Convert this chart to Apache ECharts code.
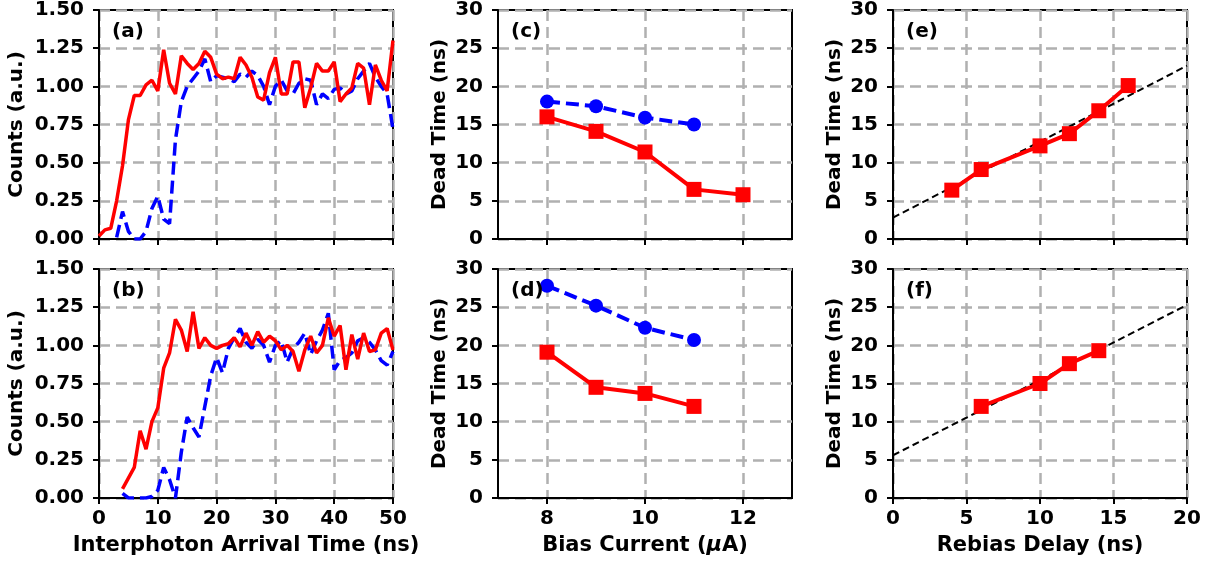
<!DOCTYPE html>
<html><head><meta charset="utf-8">
<script src="https://cdn.jsdelivr.net/npm/echarts@6/dist/echarts.min.js"></script>
<style>html,body{margin:0;padding:0;background:#fff}#c{width:1214px;height:563px}</style>
</head><body><div id="c"></div>
<script>
// ---- data ----
const arrivalTimes = [0,1,2,3,4,5,6,7,8,9,10,11,12,13,14,15,16,17,18,19,20,21,22,23,24,25,26,27,28,29,30,31,32,33,34,35,36,37,38,39,40,41,42,43,44,45,46,47,48,49,50];
// panel (a)
const countsRedA = [0.02,0.06,0.07,0.25,0.48,0.78,0.94,0.94,1.01,1.04,0.97,1.24,1.02,0.95,1.20,1.15,1.11,1.15,1.23,1.19,1.08,1.05,1.06,1.05,1.19,1.14,1.06,0.93,0.91,1.09,1.19,0.95,0.95,1.16,1.16,0.86,0.99,1.15,1.10,1.10,1.16,0.90,0.95,0.99,1.15,1.12,0.88,1.14,1.04,0.97,1.30];
const countsBlueA = [null,null,null,0.01,0.18,0.05,0.0,0.0,0.05,0.20,0.28,0.13,0.10,0.65,0.90,1.00,1.05,1.10,1.18,1.03,1.07,1.06,1.05,1.03,1.08,1.06,1.10,1.07,1.00,0.88,1.00,1.04,0.97,0.95,1.02,1.05,1.04,0.88,0.95,0.92,0.98,0.99,0.95,0.97,1.05,1.10,1.15,1.06,1.00,0.95,0.72];
// panel (b)
const countsRedB = [null,null,null,null,0.06,0.13,0.20,0.44,0.32,0.50,0.59,0.85,0.95,1.17,1.10,0.96,1.22,0.98,1.05,1.00,0.98,1.00,1.01,1.05,0.99,1.08,1.00,1.09,1.02,1.06,1.03,0.97,1.00,0.96,0.83,0.97,1.06,0.95,1.00,1.18,1.06,1.13,0.84,1.07,0.91,1.08,0.96,0.97,1.08,1.11,0.97];
const countsBlueB = [null,null,null,null,0.03,0.0,0.0,0.0,0.0,0.01,0.05,0.20,0.12,0.0,0.30,0.53,0.46,0.40,0.60,0.80,0.92,0.82,0.98,1.05,1.11,1.02,0.98,1.04,1.00,0.89,1.00,1.03,0.89,0.98,1.02,1.08,0.94,1.03,1.10,1.21,0.84,0.90,0.92,0.95,1.03,1.05,1.02,0.97,0.90,0.87,0.96];
// panels (c),(d)
const biasBlue = [8,9,10,11];
const biasRed = [8,9,10,11,12];
const deadBlueC = [18.0,17.4,15.9,15.0];
const deadRedC = [16.0,14.1,11.4,6.5,5.8];
const biasBlueD = [8,9,10,11];
const biasRedD = [8,9,10,11];
const deadBlueD = [27.8,25.2,22.3,20.7];
const deadRedD = [19.1,14.5,13.7,12.0];
// panels (e),(f)
const rebiasE = [4,6,10,12,14,16];
const deadE = [6.4,9.1,12.2,13.8,16.8,20.1];
const fitE_x = [0,20];
const fitE_y = [2.8,22.7];
const rebiasF = [6,10,12,14];
const deadF = [12.0,15.0,17.6,19.3];
const fitF_x = [0,20];
const fitF_y = [5.6,25.3];
// tick values
const biasTicks = [8,10,12];

const pairs = (xs, ys) => xs.map((x,i)=>[x, ys[i]]).filter(p=>p[1]!==null && p[1]!==undefined);

const FONT = 'DejaVu Sans';
const GRIDC = '#b0b0b0';
const RED = '#ff0000', BLUE = '#0000ff';
const TICKFS = 20, XNAMEFS = 21, YNAMEFS = 20;

const L = [99, 498, 893], T = [10, 269], W = 294, H = 229;
const grids = [];
for (let r=0;r<2;r++) for (let c=0;c<3;c++) grids.push({left:L[c], top:T[r], width:W, height:H, show:true, borderColor:'#000', borderWidth:2, backgroundColor:'transparent'});

function splitL(){ return {show:true, lineStyle:{color:GRIDC, width:2.5, type:[11,6]}}; }
function baseAxis(extra){
  return Object.assign({
    type:'value',
    axisLine:{show:true, onZero:false, lineStyle:{color:'#000', width:2}},
    axisTick:{show:true, inside:false, length:6, lineStyle:{color:'#000', width:2}},
    axisLabel:{show:true, color:'#000', fontFamily:FONT, fontWeight:'bold', fontSize:TICKFS, margin:12},
    splitLine:splitL(),
    nameTextStyle:{color:'#000', fontFamily:FONT, fontWeight:'bold', fontSize:YNAMEFS},
    nameLocation:'middle'
  }, extra);
}

const xAxes = [], yAxes = [];
// order: 0 a, 1 c, 2 e, 3 b, 4 d, 5 f
for (let i=0;i<6;i++){
  const col = i%3, bottom = i>=3;
  let xa;
  if (col===0) xa = baseAxis({min:0,max:50,interval:10});
  else if (col===1) {
    xa = baseAxis({min:7,max:13,interval:1});
    xa.axisTick.customValues = biasTicks;
    xa.axisLabel.customValues = biasTicks;
  }
  else xa = baseAxis({min:0,max:20,interval:5});
  xa.gridIndex = i;
  xa.axisLabel.margin = 11;
  xa.nameTextStyle.fontSize = XNAMEFS;
  if (!bottom) xa.axisLabel.show = false;
  else {
    xa.nameGap = 37;
    xa.name = ['Interphoton Arrival Time (ns)', '{n|Bias Current (}{i|μ}{n|A)}', 'Rebias Delay (ns)'][col];
    if (col===1) xa.nameTextStyle.rich = {n:{fontFamily:FONT,fontWeight:'bold',fontSize:XNAMEFS,color:'#000'}, i:{fontFamily:FONT,fontWeight:'bold',fontStyle:'italic',fontSize:XNAMEFS,color:'#000'}};
  }
  xAxes.push(xa);
  let ya;
  if (col===0) {
    ya = baseAxis({min:0,max:1.5,interval:0.25,name:'Counts (a.u.)',nameGap:72});
    ya.axisLabel.formatter = v => v.toFixed(2);
  } else {
    ya = baseAxis({min:0,max:30,interval:5,name:'Dead Time (ns)',nameGap:48});
  }
  ya.axisLabel.margin = 15;
  ya.gridIndex = i;
  ya.nameRotate = 90;
  yAxes.push(ya);
}

function lineS(idx, data, color, dashed, width, symbol, size, z){
  return {type:'line', xAxisIndex:idx, yAxisIndex:idx, data:data, z:z||3,
    lineStyle:{color:color, width:width, type: dashed ? dashed : 'solid'},
    itemStyle:{color:color},
    symbol: symbol||'none', symbolSize:size||0, showSymbol: !!symbol,
    animation:false, silent:true};
}

const series = [
  // (a)
  lineS(0, pairs(arrivalTimes,countsBlueA), BLUE, [13,6], 3.5),
  lineS(0, pairs(arrivalTimes,countsRedA), RED, null, 3.5),
  // (b)
  lineS(3, pairs(arrivalTimes,countsBlueB), BLUE, [13,6], 3.5),
  lineS(3, pairs(arrivalTimes,countsRedB), RED, null, 3.5),
  // (c)
  lineS(1, pairs(biasBlue,deadBlueC), BLUE, [13,6], 4, 'circle', 14),
  lineS(1, pairs(biasRed,deadRedC), RED, null, 4, 'rect', 15),
  // (d)
  lineS(4, pairs(biasBlueD,deadBlueD), BLUE, [13,6], 4, 'circle', 14),
  lineS(4, pairs(biasRedD,deadRedD), RED, null, 4, 'rect', 15),
  // (e)
  lineS(2, pairs(fitE_x,fitE_y), '#000', [7,4], 2, null, 0, 2),
  lineS(2, pairs(rebiasE,deadE), RED, null, 4, 'rect', 15),
  // (f)
  lineS(5, pairs(fitF_x,fitF_y), '#000', [7,4], 2, null, 0, 2),
  lineS(5, pairs(rebiasF,deadF), RED, null, 4, 'rect', 15),
];

const panelLabels = ['(a)','(c)','(e)','(b)','(d)','(f)'];
const graphic = panelLabels.map((t,i)=>({
  type:'text', left: L[i%3]+13, top: T[i>=3?1:0]+12, z:100,
  style:{text:t, fill:'#000', font:'bold 20px "DejaVu Sans"'}
}));

const chart = echarts.init(document.getElementById('c'), null, {renderer:'canvas'});
chart.setOption({
  animation:false,
  backgroundColor:'#fff',
  grid:grids, xAxis:xAxes, yAxis:yAxes, series:series, graphic:graphic
});
</script></body></html>
